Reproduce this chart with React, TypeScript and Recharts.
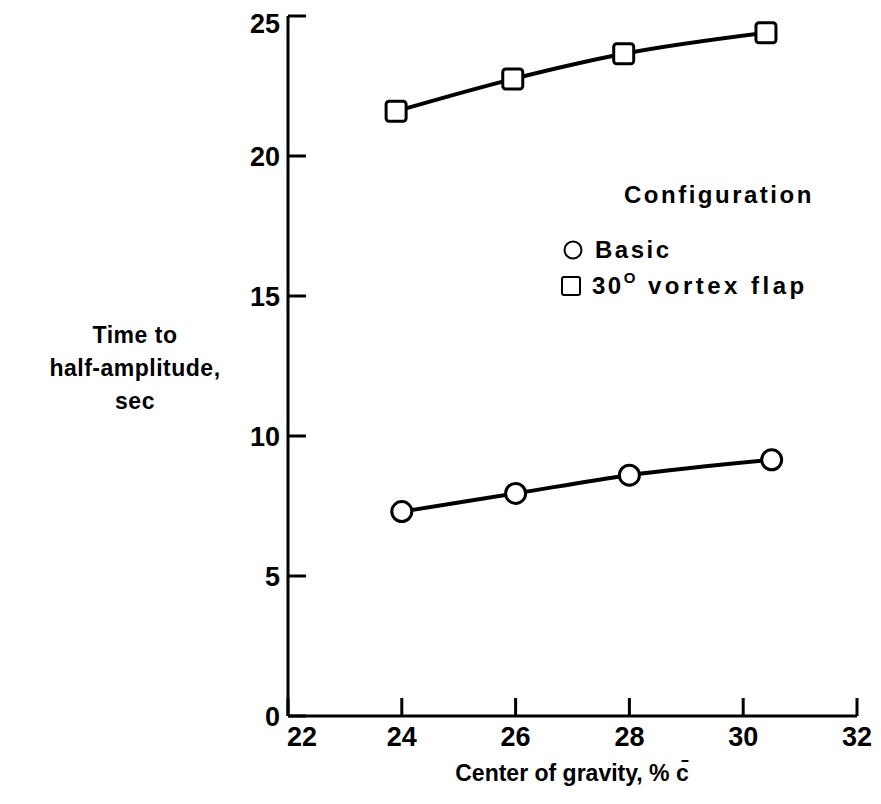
import React from "react";
import { LineChart, Line, XAxis, YAxis } from "recharts";

// center of gravity, % c-bar
const basicCg = [24.0, 26.0, 28.0, 30.5];
const basicTime = [7.3, 7.95, 8.6, 9.15];
const flapCg = [23.9, 25.95, 27.9, 30.4];
const flapTime = [21.6, 22.75, 23.65, 24.4];

const xTicks = [22, 24, 26, 28, 30, 32];
const yTicks = [0, 5, 10, 15, 20, 25];

const basicData = basicCg.map((cg, i) => ({ cg, time: basicTime[i] }));
const flapData = flapCg.map((cg, i) => ({ cg, time: flapTime[i] }));

const FONT = "'Liberation Sans', Arial, Helvetica, sans-serif";
const textStyle: React.CSSProperties = {
  fontFamily: FONT,
  fontWeight: 700,
  fontSize: 23,
  color: "#000",
  whiteSpace: "nowrap",
};
const legendStyle: React.CSSProperties = { ...textStyle, fontSize: 24, letterSpacing: 2.5 };

const SquareDot = (props: any) => {
  const { cx, cy } = props;
  if (cx == null || cy == null) return null;
  return (
    <rect
      x={cx - 10}
      y={cy - 10}
      width={20}
      height={20}
      rx={3}
      fill="#fff"
      stroke="#000"
      strokeWidth={3}
    />
  );
};

// first x label sits a little right of the corner
const XTick = (props: any) => {
  const { x, y, payload } = props;
  const shift = payload.value === 22 ? 14 : 0;
  return (
    <text
      x={x + shift}
      y={y}
      dy="0.71em"
      textAnchor="middle"
      fill="#000"
      fontSize={27}
      fontWeight={700}
      fontFamily={FONT}
    >
      {payload.value}
    </text>
  );
};

const App = () => {
  const tickStyle = { fill: "#000", fontSize: 27, fontWeight: 700, fontFamily: FONT };
  return (
    <div style={{ position: "relative", width: 865, height: 790 }}>
      <LineChart
        width={865}
        height={790}
        margin={{ top: 8, right: 16, left: 220, bottom: 52 }}
      >
        <XAxis
          type="number"
          dataKey="cg"
          domain={[22, 32]}
          ticks={xTicks}
          allowDuplicatedCategory={false}
          stroke="#000"
          strokeWidth={3}
          tickSize={-18}
          tickMargin={29}
          tick={<XTick />}
        />
        <YAxis
          type="number"
          dataKey="time"
          domain={[0, 25]}
          ticks={yTicks}
          width={60}
          stroke="#000"
          strokeWidth={3}
          tickSize={-18}
          tickMargin={26}
          tick={tickStyle}
        />
        <Line
          data={basicData}
          dataKey="time"
          type="monotone"
          stroke="#000"
          strokeWidth={4}
          dot={{ r: 10, fill: "#fff", stroke: "#000", strokeWidth: 3 }}
          isAnimationActive={false}
        />
        <Line
          data={flapData}
          dataKey="time"
          type="monotone"
          stroke="#000"
          strokeWidth={4}
          dot={<SquareDot />}
          isAnimationActive={false}
        />
      </LineChart>

      {/* legend */}
      <div style={{ ...legendStyle, position: "absolute", left: 616, top: 173 }}>
        Configuration
      </div>
      <div style={{ ...legendStyle, position: "absolute", left: 554, top: 228, display: "flex", alignItems: "center" }}>
        <svg width={22} height={22} style={{ marginRight: 11 }}>
          <circle cx={11} cy={11} r={8.5} fill="#fff" stroke="#000" strokeWidth={2} />
        </svg>
        Basic
      </div>
      <div style={{ ...legendStyle, position: "absolute", left: 552, top: 264, display: "flex", alignItems: "center" }}>
        <svg width={22} height={22} style={{ marginRight: 10 }}>
          <rect x={2} y={2} width={18} height={18} rx={2} fill="#fff" stroke="#000" strokeWidth={2} />
        </svg>
        30<span style={{ fontSize: 15, position: "relative", top: -9, marginRight: 10 }}>O</span>
        <span style={{ letterSpacing: 3.5 }}>vortex flap</span>
      </div>

      {/* y axis title */}
      <div
        style={{
          ...textStyle,
          position: "absolute",
          left: 7,
          top: 311,
          width: 240,
          textAlign: "center",
          lineHeight: "33px",
          letterSpacing: 0.5,
        }}
      >
        Time to
        <br />
        half-amplitude,
        <br />
        sec
      </div>

      {/* x axis title */}
      <div
        style={{
          ...textStyle,
          position: "absolute",
          left: 364,
          top: 752,
          width: 400,
          textAlign: "center",
        }}
      >
        Center of gravity, % c&#772;
      </div>
    </div>
  );
};

export default App;
